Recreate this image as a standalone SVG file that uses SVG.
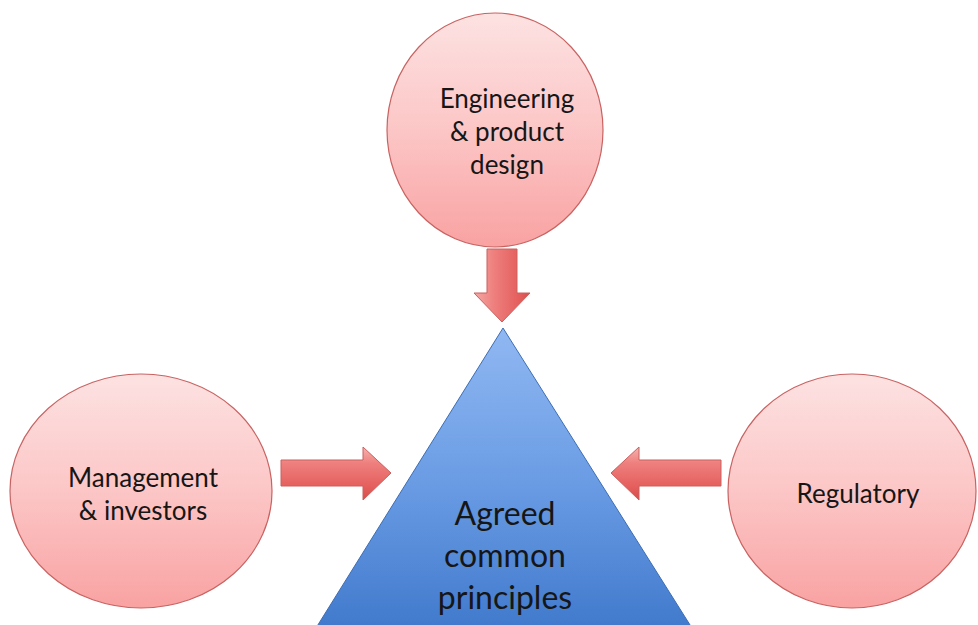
<svg xmlns="http://www.w3.org/2000/svg" width="978" height="625" viewBox="0 0 978 625">
  <defs>
    <linearGradient id="pinkFill" x1="0" y1="0" x2="0" y2="1">
      <stop offset="0" stop-color="#fde2e2"/>
      <stop offset="0.5" stop-color="#fcc6c6"/>
      <stop offset="1" stop-color="#f9a2a2"/>
    </linearGradient>
    <linearGradient id="blueFill" x1="0" y1="0" x2="0" y2="1">
      <stop offset="0" stop-color="#90b8f2"/>
      <stop offset="0.5" stop-color="#6a9ce4"/>
      <stop offset="1" stop-color="#3f78cb"/>
    </linearGradient>
    <linearGradient id="arrowH" x1="0" y1="0" x2="0" y2="1">
      <stop offset="0" stop-color="#f6b2b0"/>
      <stop offset="0.3" stop-color="#ee807e"/>
      <stop offset="0.75" stop-color="#e45f5d"/>
      <stop offset="1" stop-color="#d84e4c"/>
    </linearGradient>
    <linearGradient id="arrowV" x1="0" y1="0" x2="1" y2="0">
      <stop offset="0" stop-color="#f4a8a6"/>
      <stop offset="0.35" stop-color="#ee807e"/>
      <stop offset="0.8" stop-color="#e45f5d"/>
      <stop offset="1" stop-color="#d84e4c"/>
    </linearGradient>
    <style>
      .node { fill: url(#pinkFill); stroke: #c86362; stroke-width: 1.2; }
      .arrow { stroke: #c9605e; stroke-width: 1; stroke-linejoin: miter; }
      .label { font-family: Lato, "Open Sans", "Liberation Sans", sans-serif; font-size: 26px; fill: #161616; text-anchor: middle; }
      .big { font-size: 32px; }
    </style>
  </defs>

  <rect width="978" height="625" fill="#ffffff"/>

  <!-- central triangle -->
  <g id="principles">
    <polygon points="503,328 311,636 697,636" fill="url(#blueFill)" stroke="#3c6db4" stroke-width="1"/>
    <text class="label big" x="505" y="525">Agreed</text>
    <text class="label big" x="505" y="567">common</text>
    <text class="label big" x="505" y="609">principles</text>
  </g>

  <!-- block arrows pointing into the triangle -->
  <g id="connectors">
    <polygon class="arrow" fill="url(#arrowV)" points="487,249 517,249 517,293 530,293 502,322 474,293 487,293"/>
    <polygon class="arrow" fill="url(#arrowH)" points="281,460 363,460 363,447 391,473 363,500 363,486 281,486"/>
    <polygon class="arrow" fill="url(#arrowH)" points="721,460 639,460 639,447 611,473 639,500 639,486 721,486"/>
  </g>

  <g id="engineering">
    <ellipse class="node" cx="495" cy="130" rx="108" ry="117"/>
    <text class="label" x="507" y="108">Engineering</text>
    <text class="label" x="507" y="141">&amp; product</text>
    <text class="label" x="507" y="174">design</text>
  </g>

  <g id="management">
    <ellipse class="node" cx="141" cy="491" rx="131" ry="117"/>
    <text class="label" x="143" y="487">Management</text>
    <text class="label" x="143" y="520">&amp; investors</text>
  </g>

  <g id="regulatory">
    <ellipse class="node" cx="852" cy="491" rx="124" ry="117"/>
    <text class="label" x="858" y="503">Regulatory</text>
  </g>
</svg>
